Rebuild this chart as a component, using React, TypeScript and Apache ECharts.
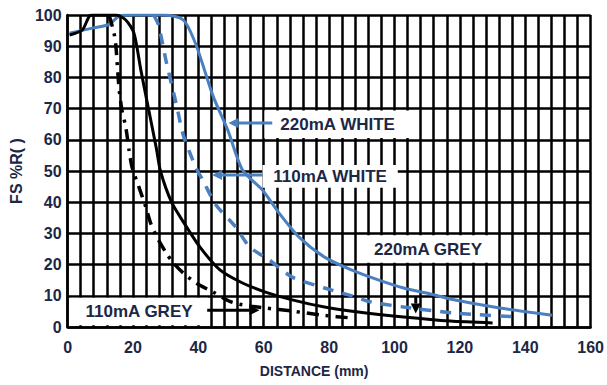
import React, { useEffect, useRef } from "react";
import * as echarts from "echarts";

// ---- data (x = distance mm, y = FS %R) ----
const xTickLabels = [0, 20, 40, 60, 80, 100, 120, 140, 160];
const yTickLabels = [0, 10, 20, 30, 40, 50, 60, 70, 80, 90, 100];

const white220: [number, number][] = [
  [0.6, 94.2], [7.6, 95.8], [12.7, 97], [15.7, 99.6], [20, 100], [29.3, 100],
  [35.4, 98.4], [39.3, 90.4], [44.5, 74], [49, 63.1], [53.5, 50.3], [59.6, 43.9],
  [64.7, 36.5], [70.8, 28.8], [78.6, 22.4], [86.8, 18.3], [95, 15.1], [102.8, 12.5],
  [111, 10.6], [117, 9], [132.2, 6.1], [148.2, 3.8],
];
const white110: [number, number][] = [
  [26.3, 100], [27.8, 96.8], [30.2, 84.9], [33.3, 71.2], [35.4, 61.5], [39.3, 51],
  [41.4, 47], [45.4, 39.1], [51.4, 32.1], [55.7, 25.6], [61.7, 21.5], [68.7, 16],
  [78.6, 12.5], [85.9, 10.3], [92.9, 8], [102.8, 6.4], [118, 4.5], [138.2, 3.2],
];
const grey220: [number, number][] = [
  [0.6, 93.6], [4.5, 95.2], [6.7, 99.7], [8.2, 100], [14.8, 100], [17.8, 98.4],
  [20.3, 94.2], [22.4, 82.4], [24.2, 72.8], [27.2, 57], [28.4, 50], [31.8, 40],
  [35.4, 33.7], [40.5, 25.6], [46.6, 18.3], [53.5, 14.1], [60.5, 11.2], [68.7, 8.7],
  [78.6, 6.4], [88.9, 4.8], [102.8, 3.2], [117, 1.9], [130, 1.3],
];
const grey110: [number, number][] = [
  [12.7, 100], [14.2, 94.2], [14.8, 89.7], [15.7, 76.9], [16.6, 69.6], [17.8, 64.1],
  [18.8, 56.7], [19.7, 51.3], [21.8, 44.9], [23.9, 38.5], [25.4, 33.3], [27.5, 28.5],
  [30.2, 23.7], [32.4, 20.5], [35.4, 17.3], [39.3, 14.1], [44.5, 11.2], [49.6, 8.2],
  [53.5, 7.1], [60.5, 6.1], [68.7, 5.1], [78.6, 3.7], [86.8, 2.9],
];

const labelTexts = ["220mA WHITE", "110mA WHITE", "220mA GREY", "110mA GREY"];

// ---- layout of annotations (data coordinates) ----
const labelBoxes = [
  [60.2, 60.6, 105, 69.4],
  [59.6, 44.6, 101, 51.9],
  [88.9, 20.6, 131.6, 29.4],
  [0.7, 0.6, 43, 9.4],
];
const arrows = [
  { from: [62.6, 65.4], to: [49.2, 65.4], color: "#4a7fc0" },
  { from: [59.6, 48.7], to: [44.2, 48.7], color: "#4a7fc0" },
  { from: [106.5, 9.6], to: [106.5, 4.3], color: "#000" },
  { from: [42.7, 5.4], to: [58.7, 5.4], color: "#000" },
];

const BLUE = "#4a7fc0";
const TXT = "#1b2745";

export default function App() {
  const ref = useRef<HTMLDivElement>(null);
  useEffect(() => {
    const chart = echarts.init(ref.current!, null, { renderer: "svg" });
    const mkLine = (name: string, data: [number, number][], color: string, type: any, width: number) => ({
      type: "line",
      name,
      data,
      showSymbol: false,
      smooth: 0.25,
      lineStyle: { color, type, width },
      z: 5,
    });
    chart.setOption({
      animation: false,
      backgroundColor: "#fff",
      grid: { left: 63, right: 15, top: 15, bottom: 58 },
      xAxis: {
        type: "value",
        min: 0,
        max: 160,
        interval: 20,
        name: "DISTANCE (mm)",
        nameLocation: "middle",
        nameGap: 37,
        nameTextStyle: { fontFamily: "Liberation Sans", fontWeight: "bold", fontSize: 14, color: TXT, padding: [0, 30, 0, 0] },
        axisLine: { show: true, lineStyle: { color: "#000", width: 2.5 } },
        axisTick: { show: false },
        axisLabel: {
          margin: 12,
          fontFamily: "Liberation Sans",
          fontWeight: "bold",
          fontSize: 16,
          color: TXT,
          formatter: (v: number) => (xTickLabels.includes(v) ? String(v) : ""),
        },
        splitLine: { show: true, lineStyle: { color: "#000", width: 2.5 } },
        minorTick: { show: false, splitNumber: 5 },
        minorSplitLine: { show: true, lineStyle: { color: "#000", width: 2.5 } },
      },
      yAxis: {
        type: "value",
        min: 0,
        max: 100,
        interval: 10,
        name: "FS %R( )",
        nameLocation: "middle",
        nameGap: 38,
        nameRotate: 90,
        nameTextStyle: { fontFamily: "Liberation Sans", fontWeight: "bold", fontSize: 16, color: TXT },
        axisLine: { show: true, lineStyle: { color: "#000", width: 2.5 } },
        axisTick: { show: false },
        axisLabel: {
          margin: 6,
          fontFamily: "Liberation Sans",
          fontWeight: "bold",
          fontSize: 16,
          color: TXT,
          formatter: (v: number) => (yTickLabels.includes(v) ? String(v) : ""),
        },
        splitLine: { show: true, lineStyle: { color: "#000", width: 2.5 } },
      },
      series: [
        mkLine("220mA WHITE", white220, BLUE, "solid", 3),
        mkLine("110mA WHITE", white110, BLUE, [11, 9], 3.5),
        mkLine("220mA GREY", grey220, "#000", "solid", 3),
        mkLine("110mA GREY", grey110, "#000", [12, 7, 3, 7], 3.5),
      ],
    });

    const toPx = (p: number[]) => chart.convertToPixel({ gridIndex: 0 }, p) as number[];
    const graphics: any[] = [];
    labelBoxes.forEach((b, i) => {
      const p0 = toPx([b[0], b[3]]);
      const p1 = toPx([b[2], b[1]]);
      graphics.push({
        type: "rect",
        z: 100,
        shape: { x: p0[0], y: p0[1], width: p1[0] - p0[0], height: p1[1] - p0[1] },
        style: { fill: "#fff" },
      });
      graphics.push({
        type: "text",
        z: 101,
        x: (p0[0] + p1[0]) / 2,
        y: (p0[1] + p1[1]) / 2,
        style: {
          text: labelTexts[i],
          fill: TXT,
          font: "bold 17px 'Liberation Sans'",
          align: "center",
          verticalAlign: "middle",
        },
      });
    });
    arrows.forEach((a) => {
      const s = toPx(a.from);
      const e = toPx(a.to);
      const dx = e[0] - s[0];
      const dy = e[1] - s[1];
      const len = Math.hypot(dx, dy);
      const ux = dx / len;
      const uy = dy / len;
      const hl = 10;
      const hw = 5;
      const bx = e[0] - ux * hl;
      const by = e[1] - uy * hl;
      graphics.push({
        type: "line",
        z: 102,
        shape: { x1: s[0], y1: s[1], x2: bx, y2: by },
        style: { stroke: a.color, lineWidth: 3 },
      });
      graphics.push({
        type: "polygon",
        z: 102,
        shape: {
          points: [
            [e[0], e[1]],
            [bx - uy * hw, by + ux * hw],
            [bx + uy * hw, by - ux * hw],
          ],
        },
        style: { fill: a.color },
      });
    });
    chart.setOption({ graphic: graphics });
    return () => chart.dispose();
  }, []);
  return <div ref={ref} style={{ position: "absolute", left: 0, top: 0, width: 607, height: 385 }} />;
}
